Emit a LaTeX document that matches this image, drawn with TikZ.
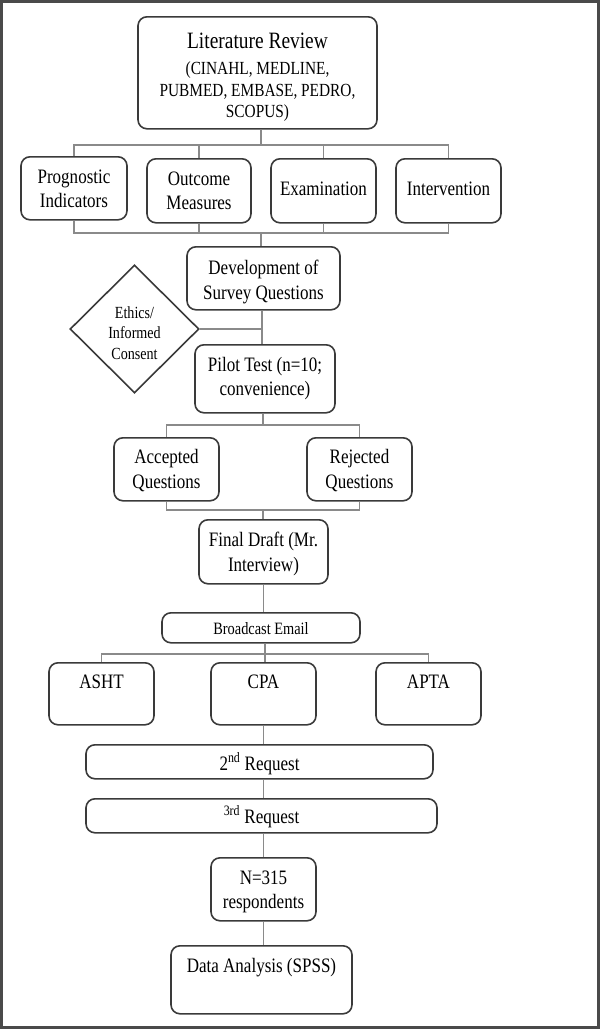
\documentclass[tikz,border=0pt]{standalone}
\usepackage{fontspec}
\setmainfont{Liberation Serif}[FakeStretch=0.83]
\usetikzlibrary{shapes.geometric}
\definecolor{boxc}{HTML}{3A3A3A}
\definecolor{connc}{HTML}{8A8A8A}
\definecolor{framec}{HTML}{4A4A4A}
\newcommand\bt[3]{{\fontsize{#1}{#2}\selectfont\begin{tabular}[t]{@{}c@{}}#3\end{tabular}}}
\begin{document}
\begin{tikzpicture}[x=1pt,y=-1pt,
  box/.style={draw=boxc,line width=1.6pt,rounded corners=9pt,inner sep=0pt,fill=white,anchor=north},
  conn/.style={draw=connc,line width=1.7pt}]
\useasboundingbox (0,0) rectangle (600,1029);
\draw[framec,line width=2.8pt] (1.4,1.4) rectangle (598.6,1027.6);
% nodes
\node[box,minimum width=239pt,text height=32pt,text depth=80pt] (lit) at (257.5,16)
  {\bt{18.5}{21.5}{{\fontsize{23.4}{26}\selectfont Literature Review}\\[4.5pt] (CINAHL, MEDLINE,\\ PUBMED, EMBASE, PEDRO,\\ SCOPUS)}};
\node[box,minimum width=106pt,text height=27pt,text depth=36pt] (prog) at (74,156) {\bt{20.5}{24}{Prognostic\\ Indicators}};
\node[box,minimum width=104pt,text height=27pt,text depth=37pt] (outc) at (199,158) {\bt{20.5}{23.5}{Outcome\\ Measures}};
\node[box,minimum width=105pt,text height=37pt,text depth=27pt] (exam) at (323.5,158) {\bt{20.5}{24}{Examination}};
\node[box,minimum width=105pt,text height=37pt,text depth=27pt] (interv) at (448.5,158) {\bt{20.5}{24}{Intervention}};
\node[box,minimum width=153pt,text height=27.3pt,text depth=35.7pt] (dev) at (263.5,246) {\bt{20.5}{25}{Development of\\ Survey Questions}};
\node[draw=boxc,line width=1.6pt,fill=white,shape=diamond,aspect=1,inner sep=0pt,minimum width=129pt,minimum height=128pt,text height=0pt,text depth=22pt] (eth) at (134.5,329) {\bt{17}{20.5}{Ethics/\\ Informed\\ Consent}};
\node[box,minimum width=140pt,text height=26.7pt,text depth=41.3pt] (pilot) at (265,344) {\bt{20.5}{24.3}{Pilot Test (n=10;\\ convenience)}};
\node[box,minimum width=105pt,text height=25.7pt,text depth=37.3pt] (acc) at (166.5,437) {\bt{20.5}{24.6}{Accepted\\ Questions}};
\node[box,minimum width=105pt,text height=25.7pt,text depth=37.3pt] (rej) at (359.5,437) {\bt{20.5}{24.6}{Rejected\\ Questions}};
\node[box,minimum width=129pt,text height=27pt,text depth=37pt] (final) at (263.5,519) {\bt{20.5}{25}{Final Draft (Mr.\\ Interview)}};
\node[box,minimum width=198pt,text height=21.3pt,text depth=8.7pt] (bcast) at (261,612) {\bt{17.3}{20}{Broadcast Email}};
\node[box,minimum width=105pt,text height=26pt,text depth=36pt] (asht) at (101.5,662) {\bt{20.5}{24}{ASHT}};
\node[box,minimum width=105pt,text height=26pt,text depth=36pt] (cpa) at (263.5,662) {\bt{20.5}{24}{CPA}};
\node[box,minimum width=105pt,text height=26pt,text depth=36pt] (apta) at (428.5,662) {\bt{20.5}{24}{APTA}};
\node[box,minimum width=347pt,text height=25.3pt,text depth=8.7pt] (req2) at (259.5,744) {\bt{20.5}{24}{2\textsuperscript{nd} Request}};
\node[box,minimum width=351pt,text height=24.7pt,text depth=9.3pt] (req3) at (261.5,798) {\bt{20.5}{24}{\textsuperscript{3rd} Request}};
\node[box,minimum width=105pt,text height=26.3pt,text depth=36.7pt] (n315) at (263.5,857) {\bt{20.5}{24.4}{N=315\\ respondents}};
\node[box,minimum width=181pt,text height=27pt,text depth=41pt] (data) at (261.5,945) {\bt{20.5}{24}{Data Analysis (SPSS)}};
% connectors
\coordinate (t1) at (261,145);
\coordinate (t2) at (261,233);
\coordinate (t3) at (262,329);
\coordinate (t4) at (263,425);
\coordinate (t5) at (263,510);
\coordinate (t6) at (265,654);
\draw[conn] (lit.south -| t1) -- (t1);
\draw[conn] (prog.north) -- (prog.north |- t1) -- (interv.north |- t1) -- (interv.north);
\draw[conn] (outc.north) -- (outc.north |- t1);
\draw[conn] (exam.north) -- (exam.north |- t1);
\draw[conn] (prog.south) -- (prog.south |- t2) -- (interv.south |- t2) -- (interv.south);
\draw[conn] (outc.south) -- (outc.south |- t2);
\draw[conn] (exam.south) -- (exam.south |- t2);
\draw[conn] (t2) -- (dev.north -| t2);
\draw[conn] (dev.south -| t3) -- (pilot.north -| t3);
\draw[conn] (eth.east) -- (t3);
\draw[conn] (pilot.south -| t4) -- (t4);
\draw[conn] (acc.north) -- (acc.north |- t4) -- (rej.north |- t4) -- (rej.north);
\draw[conn] (acc.south) -- (acc.south |- t5) -- (rej.south |- t5) -- (rej.south);
\draw[conn] (t5) -- (final.north -| t5);
\draw[conn] (final.south) -- (bcast.north -| final.south);
\draw[conn] (bcast.south -| t6) -- (cpa.north -| t6);
\draw[conn] (asht.north) -- (asht.north |- t6) -- (apta.north |- t6) -- (apta.north);
\draw[conn] (cpa.south) -- (req2.north -| cpa.south);
\draw[conn] (req2.south -| cpa.south) -- (req3.north -| cpa.south);
\draw[conn] (req3.south -| n315.north) -- (n315.north);
\draw[conn] (n315.south) -- (data.north -| n315.south);
\end{tikzpicture}
\end{document}
